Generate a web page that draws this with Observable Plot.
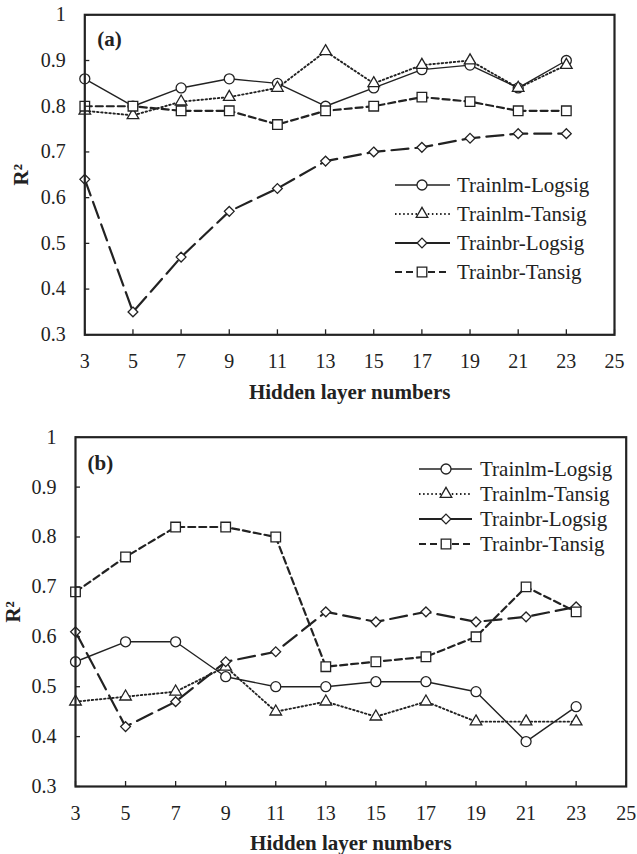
<!DOCTYPE html>
<html>
<head>
<meta charset="utf-8">
<script src="https://cdn.jsdelivr.net/npm/d3@7"></script>
<script src="https://cdn.jsdelivr.net/npm/@observablehq/plot@0.6"></script>
<style>
  html, body { margin: 0; padding: 0; background: #fff; }
  #chart { width: 637px; height: 854px; position: relative; }
  #chart svg { display: block; }
  #chart svg, #chart svg text { font-family: "Liberation Serif", "Times New Roman", serif !important; }
</style>
</head>
<body>
<div id="chart"></div>
<script>
// ---------- data ----------
const hiddenLayers = [3, 5, 7, 9, 11, 13, 15, 17, 19, 21, 23];
const seriesNames = ["Trainlm-Logsig", "Trainlm-Tansig", "Trainbr-Logsig", "Trainbr-Tansig"];

// panel (a)
const aTrainlmLogsig = [0.86, 0.80, 0.84, 0.86, 0.85, 0.80, 0.84, 0.88, 0.89, 0.84, 0.90];
const aTrainlmTansig = [0.79, 0.78, 0.81, 0.82, 0.84, 0.92, 0.85, 0.89, 0.90, 0.84, 0.89];
const aTrainbrLogsig = [0.64, 0.35, 0.47, 0.57, 0.62, 0.68, 0.70, 0.71, 0.73, 0.74, 0.74];
const aTrainbrTansig = [0.80, 0.80, 0.79, 0.79, 0.76, 0.79, 0.80, 0.82, 0.81, 0.79, 0.79];

// panel (b)
const bTrainlmLogsig = [0.55, 0.59, 0.59, 0.52, 0.50, 0.50, 0.51, 0.51, 0.49, 0.39, 0.46];
const bTrainlmTansig = [0.47, 0.48, 0.49, 0.54, 0.45, 0.47, 0.44, 0.47, 0.43, 0.43, 0.43];
const bTrainbrLogsig = [0.61, 0.42, 0.47, 0.55, 0.57, 0.65, 0.63, 0.65, 0.63, 0.64, 0.66];
const bTrainbrTansig = [0.69, 0.76, 0.82, 0.82, 0.80, 0.54, 0.55, 0.56, 0.60, 0.70, 0.65];

const xTicks = [3, 5, 7, 9, 11, 13, 15, 17, 19, 21, 23, 25];
const yTicks = [0.3, 0.4, 0.5, 0.6, 0.7, 0.8, 0.9, 1.0];
const yTickLabels = ["0.3", "0.4", "0.5", "0.6", "0.7", "0.8", "0.9", "1"];
const xTitle = "Hidden layer numbers";

// ---------- styles ----------
const ink = "#222";
const serif = "'Liberation Serif', 'Times New Roman', serif";
const seriesStyle = [
  {symbol: "circle",   d3sym: d3.symbolCircle,   r: 5.0, w: 1.4, dash: null},
  {symbol: "triangle", d3sym: d3.symbolTriangle, r: 4.3, w: 1.9, dash: "1.5,2.6"},
  {symbol: "diamond2", d3sym: d3.symbolDiamond2, r: 4.4, w: 2.2, dash: "17,7"},
  {symbol: "square",   d3sym: d3.symbolSquare,   r: 5.4, w: 2.2, dash: "7,4"}
];

function makePanel({tag, series, height, margin, legend, rLabelDx, tagDx, tagDy}) {
  const marks = [];
  series.forEach((vals, i) => {
    const d = vals.map((v, j) => ({x: hiddenLayers[j], y: v, name: seriesNames[i]}));
    const st = seriesStyle[i];
    marks.push(Plot.line(d, {x: "x", y: "y", stroke: ink, strokeWidth: st.w,
      strokeDasharray: st.dash || undefined}));
    marks.push(Plot.dot(d, {x: "x", y: "y", symbol: st.symbol, r: st.r,
      fill: "white", stroke: ink, strokeWidth: 1.3}));
  });
  marks.push(
    Plot.axisX({ticks: xTicks, tickSize: 0, tickPadding: 19, label: null,
      tickFormat: d => String(d), fontFamily: serif}),
    Plot.axisX({ticks: xTicks, tickSize: -5, label: null, tickFormat: () => "", strokeWidth: 1.3}),
    Plot.axisY({ticks: yTicks, tickSize: 0, tickPadding: 19, label: null, fontFamily: serif,
      tickFormat: d => yTickLabels[yTicks.findIndex(t => Math.abs(t - d) < 1e-9)]}),
    Plot.axisY({ticks: yTicks, tickSize: -5, label: null, tickFormat: () => "", strokeWidth: 1.3}),
    Plot.frame({stroke: ink, strokeWidth: 2.2}),
    Plot.text([xTitle], {frameAnchor: "bottom", dy: 57, lineAnchor: "middle",
      fontSize: 21, fontWeight: "bold", fill: ink, fontFamily: serif}),
    Plot.text(["R²"], {frameAnchor: "left", dx: rLabelDx, rotate: -90, lineAnchor: "middle",
      textAnchor: "middle", fontSize: 21, fontWeight: "bold", fill: ink, fontFamily: serif}),
    Plot.text([tag], {frameAnchor: "top-left", dx: tagDx, dy: tagDy, textAnchor: "start",
      lineAnchor: "middle", fontSize: 21, fontWeight: "bold", fill: ink, fontFamily: serif})
  );
  const svg = Plot.plot({
    width: 637,
    height,
    marginTop: margin.top, marginRight: margin.right,
    marginBottom: margin.bottom, marginLeft: margin.left,
    x: {type: "linear", domain: [3, 25]},
    y: {type: "linear", domain: [0.3, 1]},
    style: {fontFamily: serif, fontSize: "20px", color: ink, background: "white", overflow: "visible"},
    marks
  });
  // legend
  const g = d3.select(svg).append("g")
    .attr("font-family", serif).attr("font-size", 21).attr("fill", ink).attr("text-anchor", "start");
  seriesNames.forEach((name, i) => {
    const st = seriesStyle[i];
    const y = legend.rows[i];
    g.append("line").attr("x1", legend.x1).attr("x2", legend.x2).attr("y1", y).attr("y2", y)
      .attr("stroke", ink).attr("stroke-width", st.w)
      .attr("stroke-dasharray", i === 2 ? null : (st.dash || null));
    g.append("path").attr("d", d3.symbol(st.d3sym, st.r * st.r * Math.PI)())
      .attr("transform", `translate(${legend.mx},${y})`)
      .attr("fill", "white").attr("stroke", ink).attr("stroke-width", 1.3);
    g.append("text").attr("x", legend.tx).attr("y", y).attr("dy", "0.35em")
      .attr("text-anchor", "start").text(name);
  });
  return svg;
}

const chart = document.getElementById("chart");
chart.appendChild(makePanel({
  tag: "(a)",
  series: [aTrainlmLogsig, aTrainlmTansig, aTrainbrLogsig, aTrainbrTansig],
  height: 420,
  margin: {top: 14.3, right: 23, bottom: 85.7, left: 84.3},
  legend: {x1: 395, x2: 450, mx: 422, tx: 457, rows: [185, 214, 243, 272]},
  rLabelDx: -64, tagDx: 12.5, tagDy: 24
}));
chart.appendChild(makePanel({
  tag: "(b)",
  series: [bTrainlmLogsig, bTrainlmTansig, bTrainbrLogsig, bTrainbrTansig],
  height: 434,
  margin: {top: 16.7, right: 11.3, bottom: 68, left: 75},
  legend: {x1: 419, x2: 472, mx: 446, tx: 480, rows: [49, 74, 99, 124]},
  rLabelDx: -62, tagDx: 12, tagDy: 26
}));
</script>
</body>
</html>
